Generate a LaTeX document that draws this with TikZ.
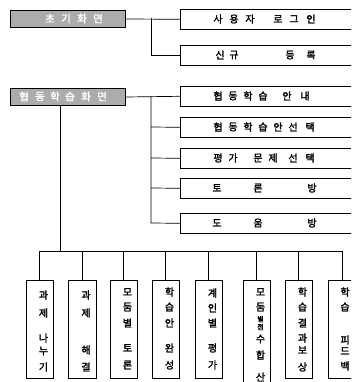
\documentclass[tikz,border=0pt]{standalone}
\usepackage{fontspec}
\newfontfamily\kr{Noto Sans CJK KR}[AutoFakeBold=2]
\newcommand\hchars[3]{\foreach \xx/\cc [count=\k] in {#3} {\node[ch] (#1t\k) at (\xx,#2) {\cc};}}
\newcommand\vchars[3]{\foreach \yy/\cc [count=\k] in {#3} {\node[ch] (#1t\k) at (#2,\yy) {\cc};}}
\begin{document}
\begin{tikzpicture}[x=1pt,y=-1pt,
  box/.style={draw, line width=0.6pt, fill=white, inner sep=0pt, anchor=north west},
  shadowline/.style={line width=1.5pt},
  gbox/.style={draw=black, line width=1pt, fill=gray!65, inner sep=0pt, anchor=north west},
  conn/.style={line width=0.7pt},
  ch/.style={font=\kr\bfseries\fontsize{10}{10}\selectfont, inner sep=0pt},
  gch/.style={font=\kr\bfseries\fontsize{10.5}{10}\selectfont, text=white, inner sep=0pt}]
\useasboundingbox (0,0) rectangle (351,382);
\clip (0,0) rectangle (351,382);

% gray title boxes
\node[gbox, minimum width=115pt, minimum height=17pt] (g1) at (10,10) {};
\node[gbox, minimum width=115pt, minimum height=17pt] (g2) at (10,88) {};
\foreach \xx/\cc [count=\k] in {50/초,66/기,82/화,98/면} {\node[gch] (g1t\k) at (\xx,18.5) {\cc};}
\foreach \xx/\cc [count=\k] in {24/협,40/동,55/학,70/습,86/화,102/면} {\node[gch] (g2t\k) at (\xx,96.5) {\cc};}

% right-hand boxes
\foreach \nm/\yy in {r1/9, r2/45, r3/86, r4/117, r5/148, r6/178, r7/213} {
  \node[box, minimum width=178pt, minimum height=20pt] (\nm) at (180,\yy) {};
  \draw[shadowline] (\nm.north east) -- (\nm.south east) -- (\nm.south west);
}
\hchars{r1}{19}{218/사,234/용,250/자,278/로,294/그,311/인}
\hchars{r2}{55}{220/신,234/규,290/등,311/록}
\hchars{r3}{96}{218/협,233/동,248/학,263/습,287/안,305/내}
\hchars{r4}{127}{218/협,233/동,248/학,263/습,278/안,293/선,310/택}
\hchars{r5}{158}{218/평,233/가,258/문,273/제,293/선,310/택}
\hchars{r6}{188}{217/토,258/론,312/방}
\hchars{r7}{223}{217/도,258/움,312/방}

% connectors top
\coordinate (j1) at (151,18.5);
\draw[conn] (g1.east) -- (r1.west);
\draw[conn] (j1) |- (r2.west);
\coordinate (j2) at (151,96.5);
\draw[conn] (g2.east) -- (r3.west);
\draw[conn] (j2) -- (151,223) -- (r7.west);
\draw[conn] (151,127) -- (r4.west);
\draw[conn] (151,158) -- (r5.west);
\draw[conn] (151,188) -- (r6.west);

% bottom boxes
\foreach \nm/\xx/\ww/\hh in {b1/26/27/98, b2/68/28/98, b3/110/27/98, b4/152/27/98, b5/195/27/98, b6/243/27/115, b7/285/27/98, b8/328/28/98} {
  \node[box, minimum width=\ww pt, minimum height=\hh pt] (\nm) at (\xx,280) {};
  \draw[shadowline] (\nm.north east) -- (\nm.south east) -- (\nm.south west);
}
\coordinate (bus) at (60,251);
\draw[conn] (g2.south -| bus) -- (bus);
\draw[conn] (b1.north) |- (b8.north |- bus) -- (b8.north);
\foreach \nm in {b2,b3,b4,b5,b6,b7} {\draw[conn] (\nm.north |- bus) -- (\nm.north);}

\vchars{b1}{43.5}{295/과,313/제,338/나,351/누,367/기}
\vchars{b2}{86}{295/과,313/제,350/해,367/결}
\vchars{b3}{127.5}{292/모,307/둠,323/별,348/토,365/론}
\vchars{b4}{169.5}{292/학,307/습,323/안,348/완,365/성}
\vchars{b5}{212.5}{293/계,308/인,323/별,348/평,365/가}
\vchars{b6}{260.5}{292/모,307/둠,319/{\fontsize{7}{7}\selectfont 별},327/{\fontsize{7}{7}\selectfont 점},339/수,355/합,377/산}
\vchars{b7}{302.5}{292/학,307/습,323/결,338/과,350/보,367/상}
\vchars{b8}{345}{292/학,307/습,340/피,351/드,366/백}
\end{tikzpicture}
\end{document}
